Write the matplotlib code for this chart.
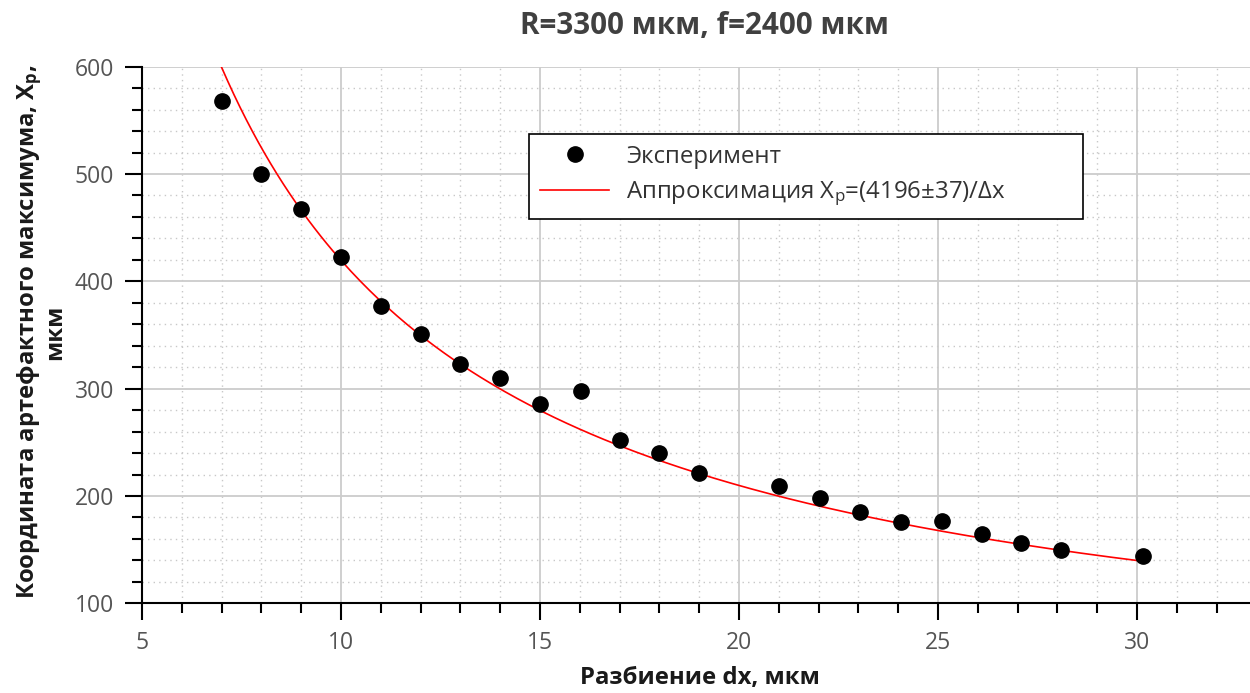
import numpy as np
import matplotlib
matplotlib.use("Agg")
import matplotlib.pyplot as plt
from matplotlib.ticker import MultipleLocator

plt.rcParams['font.family'] = ['Open Sans', 'DejaVu Sans']
plt.rcParams['mathtext.fontset'] = 'custom'
plt.rcParams['mathtext.rm'] = 'Open Sans'
plt.rcParams['mathtext.it'] = 'Open Sans'
plt.rcParams['mathtext.bf'] = 'Open Sans:bold'

# Data
dx_exp = [7, 8, 9, 10, 11, 12, 13, 14, 15, 16.03, 17, 18, 19, 21, 22.03, 23.05, 24.07,
          25.09, 26.1, 27.08, 28.08, 30.15]
xp_exp = [568, 500, 467, 423, 377, 351, 323, 310, 286, 298, 252, 240, 221, 209, 198.5,
          185, 175.5, 177, 165, 156.5, 149.5, 144.5]
fit_coef = 4196
fit_err = 37
fit_x_range = (7, 30.15)

title = "R=3300 мкм, f=2400 мкм"
xlabel = "Разбиение dx, мкм"
ylabel = "Координата артефактного максимума, X$_\\mathbf{p}$,\nмкм"
leg_exp = "Эксперимент"
leg_fit = "Аппроксимация X$_\\mathregular{p}$=(4196±37)/Δx"

W, H = 1250, 693
fig = plt.figure(figsize=(W / 100, H / 100), dpi=100)
L, R, T, B = 142, 1250, 66.7, 603.3
ax = fig.add_axes([L / W, 1 - B / H, (R - L) / W, (B - T) / H])

xf = np.linspace(fit_x_range[0], fit_x_range[1], 300)
ax.plot(xf, fit_coef / xf, color='red', lw=1.2, label=leg_fit, zorder=3)
ax.plot(dx_exp, xp_exp, 'o', color='black', ms=11, label=leg_exp, zorder=4)

ax.set_xlim(5, 5 + (R - L) / 39.8)
ax.set_ylim(100, 600)
ax.xaxis.set_major_locator(MultipleLocator(5))
ax.xaxis.set_minor_locator(MultipleLocator(1))
ax.yaxis.set_major_locator(MultipleLocator(100))
ax.yaxis.set_minor_locator(MultipleLocator(20))

ax.grid(which='major', color='#cccccc', lw=1.3, ls='-')
ax.grid(which='minor', color='#c8c8c8', lw=1.0, ls=(0, (1, 3)))
ax.set_axisbelow(True)

for s in ['top', 'right']:
    ax.spines[s].set_visible(False)
for s in ['left', 'bottom']:
    ax.spines[s].set_color('black')
    ax.spines[s].set_linewidth(1.5)

ax.tick_params(which='major', direction='out', length=12, width=1.5, color='black',
               labelsize=16.5, labelcolor='#555555', pad=8)
ax.tick_params(which='minor', direction='out', length=7, width=1.5, color='black')

# legend box in axes fraction
lx0 = (529 - L) / (R - L)
lw_ = (1083 - 529) / (R - L)
ltop = (B - 134) / (B - T)
lh = (216 - 134) / (B - T)
handles, labels = ax.get_legend_handles_labels()
leg = ax.legend([handles[1], handles[0]], [labels[1], labels[0]],
                loc='upper left', bbox_to_anchor=(lx0, ltop - lh, lw_, lh), mode='expand',
                borderaxespad=0, fancybox=False, edgecolor='black', framealpha=1,
                fontsize=17.3, handlelength=2.9, handletextpad=0.7, borderpad=0.45,
                labelspacing=0.45)
leg.get_frame().set_linewidth(1.2)
for t in leg.get_texts():
    t.set_color('#333333')

fig.text(704 / W, 1 - 26 / H, title, ha='center', va='center', fontsize=21.3,
         fontweight='bold', color='#404040')
fig.text(700 / W, 1 - 678 / H, xlabel, ha='center', va='center', fontsize=17.2,
         fontweight='bold', color='#1a1a1a')
fig.text(41 / W, 1 - 332 / H, ylabel, ha='center', va='center', rotation=90,
         fontsize=17.2, fontweight='bold', color='#1a1a1a', multialignment='center',
         linespacing=0.95)

fig.savefig('out.png', dpi=100)
